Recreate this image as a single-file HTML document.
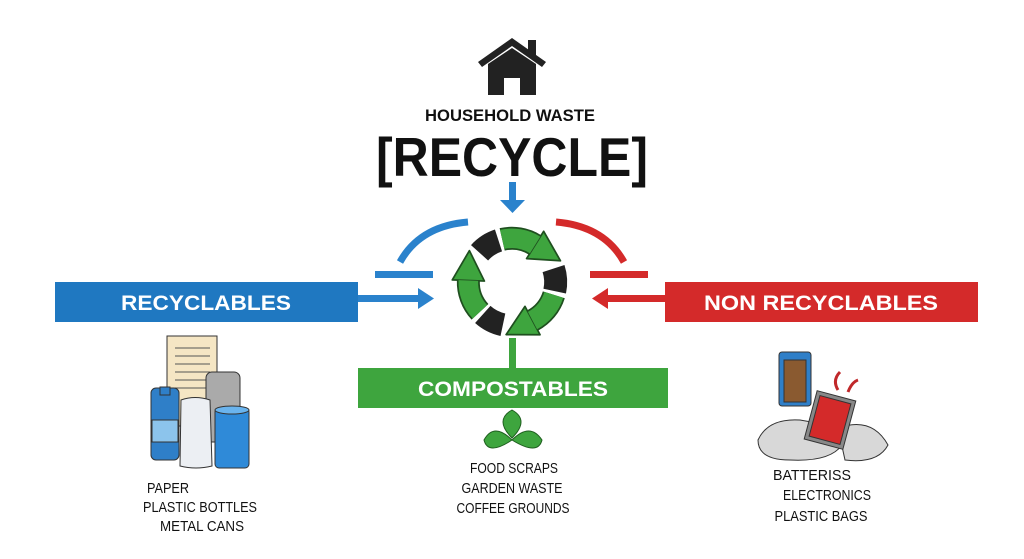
<!DOCTYPE html>
<html><head><meta charset="utf-8"><style>
html,body{margin:0;padding:0;background:#fff;}
svg{display:block}
text{font-family:"Liberation Sans",Arial,sans-serif;}
</style></head><body>
<svg width="1024" height="559" viewBox="0 0 1024 559" xmlns="http://www.w3.org/2000/svg">
<defs>
<g id="unit">
<path d="M-24.4 -29.1 A38 38 0 0 1 -6.6 -37.4" stroke="#222" stroke-width="20" fill="none"/>
<path d="M-3.3 -37.9 A38 38 0 0 1 24.4 -29.1" stroke="#1f4f1f" stroke-width="20" fill="none"/>
<path d="M33.4 -39.8 L15.4 -18.4 L44.3 -12.4 Z" fill="#3ea53e" stroke="#1f4f1f" stroke-width="1.5" stroke-linejoin="round"/>
<path d="M-3.3 -37.9 A38 38 0 0 1 24.4 -29.1" stroke="#3ea53e" stroke-width="17" fill="none"/>
</g>
</defs>
<rect width="1024" height="559" fill="#fff"/>
<!-- house -->
<path d="M478 62 L512 38 L546 62 L542 67 L512 46 L482 67 Z" fill="#222"/>
<rect x="528" y="40" width="8" height="16" fill="#222"/>
<path d="M488 64 L512 48 L536 64 L536 95 L520 95 L520 78 L504 78 L504 95 L488 95 Z" fill="#222"/>
<text x="510" y="121" font-size="17" font-weight="bold" text-anchor="middle" fill="#111" textLength="170" lengthAdjust="spacingAndGlyphs">HOUSEHOLD WASTE</text>
<text x="512" y="176" font-size="55" font-weight="bold" text-anchor="middle" fill="#111" textLength="272" lengthAdjust="spacingAndGlyphs">[RECYCLE]</text>
<!-- down arrow -->
<rect x="509" y="182" width="7" height="20" fill="#2a82cc"/>
<path d="M500 200 L525 200 L512.5 213 Z" fill="#2a82cc"/>
<!-- arcs -->
<path d="M400 262 Q420 226 468 222" stroke="#2a82cc" stroke-width="7" fill="none"/>
<path d="M556 222 Q604 226 624 262" stroke="#d42a2a" stroke-width="7" fill="none"/>
<rect x="375" y="271" width="58" height="7" fill="#2a82cc"/>
<rect x="590" y="271" width="58" height="7" fill="#d42a2a"/>
<rect x="358" y="295" width="62" height="7" fill="#2a82cc"/>
<path d="M418 288 L434 298.5 L418 309 Z" fill="#2a82cc"/>
<rect x="606" y="295" width="60" height="7" fill="#d42a2a"/>
<path d="M608 288 L592 298.5 L608 309 Z" fill="#d42a2a"/>
<!-- recycle symbol -->
<g transform="translate(512 282) scale(1.15) rotate(-8)">
<use href="#unit"/>
<use href="#unit" transform="rotate(120)"/>
<use href="#unit" transform="rotate(240)"/>
</g>
<!-- stem -->
<rect x="509" y="338" width="7" height="32" fill="#3ea53e"/>
<!-- boxes -->
<rect x="55" y="282" width="303" height="40" fill="#1f78c1"/>
<text x="206" y="310" font-size="21" font-weight="bold" fill="#fff" text-anchor="middle" textLength="170" lengthAdjust="spacingAndGlyphs">RECYCLABLES</text>
<rect x="665" y="282" width="313" height="40" fill="#d42a2a"/>
<text x="821" y="310" font-size="21" font-weight="bold" fill="#fff" text-anchor="middle" textLength="234" lengthAdjust="spacingAndGlyphs">NON RECYCLABLES</text>
<rect x="358" y="368" width="310" height="40" fill="#3ea53e"/>
<text x="513" y="396" font-size="21" font-weight="bold" fill="#fff" text-anchor="middle" textLength="190" lengthAdjust="spacingAndGlyphs">COMPOSTABLES</text>
<!-- recyclable icons -->
<g stroke="#333" stroke-width="1">
<rect x="167" y="336" width="50" height="90" fill="#f5e6c4"/>
<g stroke="#555"><line x1="175" y1="348" x2="210" y2="348"/><line x1="175" y1="356" x2="210" y2="356"/><line x1="175" y1="364" x2="210" y2="364"/><line x1="175" y1="372" x2="210" y2="372"/><line x1="175" y1="380" x2="210" y2="380"/><line x1="175" y1="388" x2="210" y2="388"/></g>
<rect x="206" y="372" width="34" height="70" rx="6" fill="#aaa"/>
<rect x="151" y="388" width="28" height="72" rx="5" fill="#2f7fc8"/>
<rect x="160" y="387" width="10" height="8" fill="#2f7fc8"/>
<rect x="152" y="420" width="26" height="22" fill="#8cc4ec"/>
<path d="M181 400 Q195 395 210 400 L212 466 Q196 470 180 466 Z" fill="#eceff3"/>
<rect x="215" y="408" width="34" height="60" rx="4" fill="#2f8ad8"/>
<ellipse cx="232" cy="410" rx="17" ry="4" fill="#6ab4ee"/>
</g>
<g font-size="15" fill="#111" text-anchor="middle">
<text x="168" y="493" textLength="42" lengthAdjust="spacingAndGlyphs">PAPER</text>
<text x="200" y="512" textLength="114" lengthAdjust="spacingAndGlyphs">PLASTIC BOTTLES</text>
<text x="202" y="531" textLength="84" lengthAdjust="spacingAndGlyphs">METAL CANS</text>
<text x="514" y="473" textLength="88" lengthAdjust="spacingAndGlyphs">FOOD SCRAPS</text>
<text x="512" y="493" textLength="101" lengthAdjust="spacingAndGlyphs">GARDEN WASTE</text>
<text x="513" y="513" textLength="113" lengthAdjust="spacingAndGlyphs">COFFEE GROUNDS</text>
<text x="812" y="480" textLength="78" lengthAdjust="spacingAndGlyphs">BATTERISS</text>
<text x="827" y="500" textLength="88" lengthAdjust="spacingAndGlyphs">ELECTRONICS</text>
<text x="821" y="521" textLength="93" lengthAdjust="spacingAndGlyphs">PLASTIC BAGS</text>
</g>
<!-- leaves -->
<g fill="#3ea53e" stroke="#1f5f1f" stroke-width="1">
<path d="M512 440 Q488 456 484 440 Q494 422 512 440 Z"/>
<path d="M512 440 Q538 456 542 440 Q530 422 512 440 Z"/>
<path d="M512 438 Q494 420 512 410 Q530 420 512 438 Z"/>
</g>
<!-- non recyclable icons -->
<g stroke="#333" stroke-width="1">
<path d="M758 440 Q768 418 800 420 Q830 424 842 445 Q830 462 790 460 Q758 460 758 440 Z" fill="#d8d8d8"/>
<path d="M838 428 Q872 416 888 445 Q878 464 845 460 Z" fill="#d8d8d8"/>
<rect x="779" y="352" width="32" height="54" rx="3" fill="#2f7fc8"/>
<rect x="784" y="360" width="22" height="42" fill="#8a5a30"/>
<rect x="810" y="395" width="40" height="50" transform="rotate(15 830 420)" fill="#888"/>
<rect x="814" y="399" width="32" height="42" transform="rotate(15 830 420)" fill="#d42a2a"/>
</g>
<path d="M838 390 Q832 380 840 372 M848 392 Q852 382 858 380" stroke="#c0282a" stroke-width="3" fill="none"/>
</svg>
</body></html>
